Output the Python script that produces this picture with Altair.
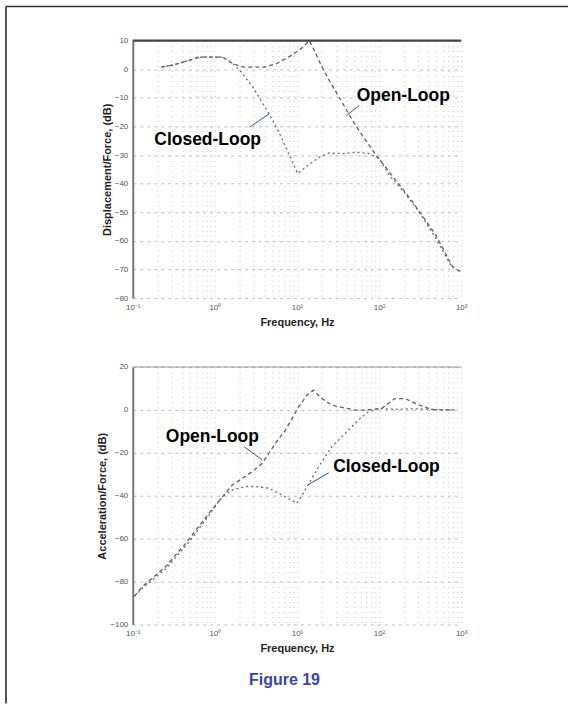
import altair as alt
import pandas as pd

# ---------------- data ----------------
# Top panel: Displacement/Force (dB) vs frequency (Hz)
top_open_hz = [0.223, 0.316, 0.653, 1.25, 1.66, 2.24, 3.98, 5.6, 7.9, 11.2, 14.1, 16.6, 20.0,
               24.8, 39.6, 52.5, 69.3, 91.8, 133, 256, 492, 783, 991]
top_open_db = [0.7, 1.5, 4.2, 4.2, 1.9, 0.7, 0.7, 1.9, 4.2, 7.1, 10.0, 6.0, 1.0,
               -4.0, -14.0, -20.0, -25.0, -30.0, -35.9, -46.4, -58.0, -69.0, -70.8]
top_closed_hz = [0.223, 0.316, 0.653, 1.25, 1.66, 2.1, 2.9, 3.85, 5.08, 6.43, 8.1, 10.2, 13.6,
                 18.8, 24.8, 36.1, 52.5, 76.2, 101, 133, 193, 308, 492, 783]
top_closed_db = [0.7, 1.5, 4.2, 4.2, 1.9, -1.0, -6.3, -12.1, -17.9, -23.7, -30.1, -36.5, -33.6,
                 -30.7, -29.3, -29.5, -29.0, -29.5, -31.3, -37.1, -42.3, -49.9, -59.2, -69.6]

# Bottom panel: Acceleration/Force (dB) vs frequency (Hz)
bot_open_hz = [0.105, 0.132, 0.254, 0.443, 0.849, 1.63, 2.85, 3.77, 5.46, 7.23, 10.5, 13.2, 15.9,
               20.1, 26.5, 35.1, 50.9, 67.3, 107, 156, 206, 299, 433, 628, 830]
bot_open_db = [-86.8, -82.2, -72.9, -62.1, -48.1, -35.0, -28.8, -24.9, -15.6, -9.4, 1.4, 6.8, 9.2,
               5.3, 2.2, 1.2, -0.1, -0.1, 0.6, 5.3, 5.3, 2.5, 0.2, 0.0, 0.0]
bot_closed_hz = [0.105, 0.132, 0.254, 0.486, 0.849, 1.23, 1.63, 2.37, 3.13, 4.54, 6.58, 10.0, 12.6,
                 18.3, 26.5, 38.5, 55.8, 74.0, 97.7, 171, 206, 299, 433, 628, 830]
bot_closed_db = [-86.8, -83.0, -74.0, -61.5, -49.0, -40.4, -37.3, -35.7, -35.7, -36.5, -39.6, -43.5, -37.3,
                 -26.5, -17.2, -11.0, -4.8, -0.9, 0.6, 0.2, 0.5, 0.5, 0.2, 0.0, 0.0]

top_yticks = [10, 0, -10, -20, -30, -40, -50, -60, -70, -80]
bot_yticks = [20, 0, -20, -40, -60, -80, -100]
x_grid = [0.1, 0.2, 0.3, 0.4, 0.5, 0.6, 0.7, 0.8, 0.9,
          1, 2, 3, 4, 5, 6, 7, 8, 9,
          10, 20, 30, 40, 50, 60, 70, 80, 90,
          100, 200, 300, 400, 500, 600, 700, 800, 900, 1000]

# annotations: (label, x Hz, y dB) and leader lines (x1, y1, x2, y2)
top_labels = [("Open-Loop", 197, -9.5), ("Closed-Loop", 0.817, -24.9)]
top_leaders = [(40, -16.2, 57.5, -12.7), (2.65, -20.3, 4.63, -15.5)]
bot_labels = [("Open-Loop", 0.933, -12.6), ("Closed-Loop", 123, -26.5)]
bot_leaders = [(2.28, -17.2, 3.77, -23.3), (24.4, -29.3, 13.6, -34.9)]

W, H = 329, 258
FONT = "Liberation Sans"

x_label_expr = ("datum.value == 0.1 ? '10\u207b\u00b9' : datum.value == 1 ? '10\u2070' : "
                "datum.value == 10 ? '10\u00b9' : datum.value == 100 ? '10\u00b2' : "
                "datum.value == 1000 ? '10\u00b3' : ''")

one_row = pd.DataFrame({"k": [0]})


def series_df(oh, od, ch, cd):
    rows = [{"f": f, "db": d, "s": "Open-Loop"} for f, d in zip(oh, od)]
    rows += [{"f": f, "db": d, "s": "Closed-Loop"} for f, d in zip(ch, cd)]
    return pd.DataFrame(rows)


def panel(df, ydom, yticks, ytitle, labels, leaders, top_w, top_c, extra=None):
    xs = alt.Scale(type="log", domain=[0.1, 1000], nice=False)
    ys = alt.Scale(domain=ydom, nice=False, zero=False)
    xax = alt.Axis(values=x_grid, labelExpr=x_label_expr, grid=True, gridDash=[1, 4],
                   gridColor="#c4c4c4", gridWidth=1, domain=False, ticks=False,
                   labelFontSize=8, labelColor="#555", labelFont=FONT, labelPadding=5,
                   labelOverlap=False,
                   title="Frequency, Hz", titleFontSize=11, titleFont=FONT,
                   titleFontWeight="bold", titleColor="#222", titlePadding=5, labelFlush=False)
    yax = alt.Axis(values=yticks, grid=True, gridDash=[3, 4], gridColor="#bdbdbd",
                   domainColor="#777", domainWidth=2, ticks=False, labelOverlap=False,
                   labelFontSize=8, labelColor="#555", labelFont=FONT, labelPadding=5,
                   title=ytitle, titleFontSize=11, titleFont=FONT, titleFontWeight="bold",
                   titleColor="#222", titlePadding=2)
    lines = alt.Chart(df).mark_line(strokeWidth=1.3, clip=True).encode(
        x=alt.X("f:Q", scale=xs, axis=xax),
        y=alt.Y("db:Q", scale=ys, axis=yax),
        color=alt.Color("s:N", scale=alt.Scale(domain=["Open-Loop", "Closed-Loop"],
                                                range=["#5f5f5f", "#6a6a6a"]), legend=None),
        strokeDash=alt.StrokeDash("s:N", scale=alt.Scale(domain=["Open-Loop", "Closed-Loop"],
                                                          range=[[4, 3], [2, 3]]), legend=None),
        detail="s:N",
    )
    toprule = alt.Chart(one_row).mark_rule(color=top_c, strokeWidth=top_w).encode(
        y=alt.datum(ydom[1], scale=ys, axis=yax), x=alt.value(0), x2=alt.value(W))
    lab_df = pd.DataFrame([{"t": t, "f": f, "db": d} for t, f, d in labels])
    texts = alt.Chart(lab_df).mark_text(font=FONT, fontWeight="bold", fontSize=17.5,
                                        color="black", align="center", baseline="middle").encode(
        x=alt.X("f:Q", scale=xs, axis=xax), y=alt.Y("db:Q", scale=ys, axis=yax), text="t:N")
    led_df = pd.DataFrame([{"f1": a, "d1": b, "f2": c, "d2": d} for a, b, c, d in leaders])
    leads = alt.Chart(led_df).mark_rule(color="#3a44b0", strokeWidth=1).encode(
        x=alt.X("f1:Q", scale=xs, axis=xax), y=alt.Y("d1:Q", scale=ys, axis=yax),
        x2="f2:Q", y2="d2:Q")
    layers = [lines, toprule, leads, texts]
    if extra:
        layers += extra
    return alt.layer(*layers).properties(width=W, height=H)


top_df = series_df(top_open_hz, top_open_db, top_closed_hz, top_closed_db)
bot_df = series_df(bot_open_hz, bot_open_db, bot_closed_hz, bot_closed_db)

# page frame (top and left edges) and caption
frame_left = alt.Chart(one_row).mark_rule(color="#555", strokeWidth=2).encode(
    x=alt.value(-127), y=alt.value(-34), y2=alt.value(664))
frame_top = alt.Chart(one_row).mark_rule(color="#333", strokeWidth=1.5).encode(
    x=alt.value(-127), x2=alt.value(436), y=alt.value(-34))
caption = alt.Chart(one_row).mark_text(font=FONT, fontWeight="bold", fontSize=16,
                                       color="#3a44b0", align="center", baseline="middle").encode(
    x=alt.value(152), y=alt.value(H + 56), text=alt.value("Figure 19"))

top = panel(top_df, [-80, 10], top_yticks, "Displacement/Force, (dB)", top_labels,
            top_leaders, 2.2, "#444", [frame_left, frame_top])
bot = panel(bot_df, [-100, 20], bot_yticks, "Acceleration/Force, (dB)", bot_labels,
            bot_leaders, 1, "#999", [caption])

chart = alt.vconcat(top, bot, spacing=69, bounds="flush").properties(
    padding={"left": 5, "top": 5, "right": 0, "bottom": 0},
    background="white",
).configure_view(stroke=None)

chart.save("out.html", embed_options={"renderer": "svg", "actions": False})
